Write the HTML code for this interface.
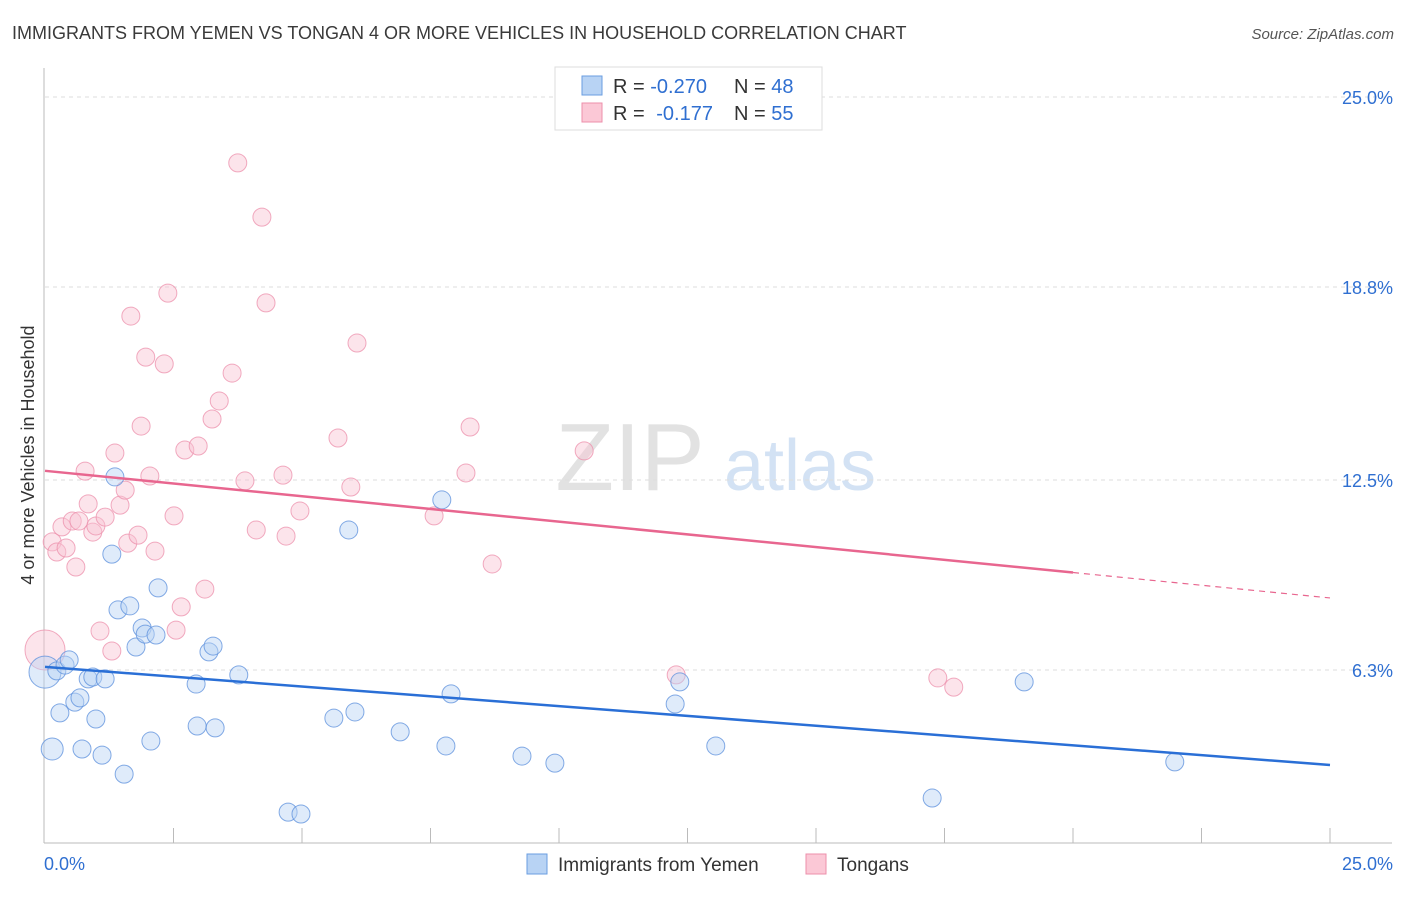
<!DOCTYPE html>
<html><head><meta charset="utf-8"><style>
body{margin:0;background:#fff;font-family:"Liberation Sans",sans-serif;}
svg text{font-family:"Liberation Sans",sans-serif;}
</style></head><body>
<svg id="c" width="1406" height="892" xmlns="http://www.w3.org/2000/svg">
<text x="12" y="39" font-size="18" fill="#3a3a3a">IMMIGRANTS FROM YEMEN VS TONGAN 4 OR MORE VEHICLES IN HOUSEHOLD CORRELATION CHART</text>
<text x="1394" y="39" font-size="15" fill="#555" font-style="italic" text-anchor="end">Source: ZipAtlas.com</text>
<g>
<text x="630" y="490" font-size="96" fill="#e2e2e2" font-family="Liberation Serif" text-anchor="middle">ZIP</text>
<text x="800" y="490" font-size="72" fill="#d3e2f4" text-anchor="middle">atlas</text></g>
<g id="grid"></g><g id="axes"></g><g id="pts"></g><g id="lines"></g>
<text transform="translate(34,455) rotate(-90)" font-size="18" fill="#333" text-anchor="middle">4 or more Vehicles in Household</text>
<g>
<rect x="555" y="67" width="267" height="63" fill="#fff" stroke="#ddd"/>
<rect x="582" y="76" width="20" height="19" fill="#b8d3f4" stroke="#6a9ee0"/>
<rect x="582" y="103" width="20" height="19" fill="#fbc8d6" stroke="#ec8fab"/>
<text x="613" y="93" font-size="20" fill="#333">R = <tspan fill="#2f6fd1">-0.270</tspan></text>
<text x="734" y="93" font-size="20" fill="#333">N = <tspan fill="#2f6fd1">48</tspan></text>
<text x="613" y="120" font-size="20" fill="#333">R = <tspan fill="#2f6fd1" dx="6">-0.177</tspan></text>
<text x="734" y="120" font-size="20" fill="#333">N = <tspan fill="#2f6fd1">55</tspan></text>
</g>
<g>
<rect x="527" y="854" width="20" height="20" fill="#b8d3f4" stroke="#6a9ee0"/>
<text x="558" y="871" font-size="19" fill="#333">Immigrants from Yemen</text>
<rect x="806" y="854" width="20" height="20" fill="#fbc8d6" stroke="#ec8fab"/>
<text x="837" y="871" font-size="19" fill="#333">Tongans</text>
</g>
</svg>
<script>
const yTicks=[25.0,18.8,12.5,6.3];
const yTickLabels=["25.0%","18.8%","12.5%","6.3%"];
const xTickCount=10;
const blueX=[0.00,0.14,0.23,0.39,0.47,0.58,0.29,0.68,0.84,0.93,1.17,0.99,0.72,1.11,1.54,1.30,1.36,1.42,1.65,1.77,1.89,1.95,2.16,2.06,2.20,2.94,2.96,3.31,3.19,3.27,3.77,4.73,4.98,5.62,6.03,5.91,6.91,7.72,7.80,7.90,9.28,9.92,12.26,12.35,13.05,17.26,19.05,21.98];
const blueY=[6.23,3.72,6.27,6.46,6.63,5.25,4.90,5.39,6.01,6.07,6.01,4.70,3.72,3.52,2.90,10.08,12.60,8.26,8.39,7.05,7.67,7.47,7.44,3.98,8.98,5.84,4.47,4.41,6.89,7.08,6.14,1.66,1.60,4.73,4.93,10.87,4.28,11.85,3.82,5.52,3.49,3.26,5.19,5.91,3.82,2.12,5.91,3.30];
const pinkX=[0.00,0.14,0.23,0.33,0.41,0.53,0.60,0.66,0.78,0.84,0.93,0.99,1.07,1.17,1.30,1.36,1.46,1.56,1.61,1.67,1.81,1.87,1.96,2.04,2.14,2.32,2.39,2.51,2.55,2.65,2.72,2.98,3.11,3.25,3.39,3.64,3.75,3.89,4.11,4.22,4.30,4.63,4.69,4.96,5.70,5.95,6.07,7.57,8.19,8.27,8.70,10.49,12.28,17.37,17.68];
const pinkY=[6.95,10.48,10.15,10.97,10.28,11.16,9.66,11.16,12.79,11.72,10.80,11.00,7.57,11.29,6.92,13.38,11.68,12.17,10.44,17.85,10.70,14.26,16.51,12.63,10.18,16.29,18.60,11.33,7.60,8.36,13.48,13.61,8.94,14.49,15.08,15.99,22.85,12.47,10.87,21.08,18.28,12.66,10.67,11.49,13.87,12.27,16.97,11.33,12.73,14.23,9.76,13.45,6.14,6.04,5.74];
const blueTrend=[6.40,3.20];
const pinkTrend=[12.80,8.65];
const pinkSolidEnd=20.0;
const X=v=>45+v*51.4, Y=v=>863-v*30.64;
const NS="http://www.w3.org/2000/svg";
function mk(t,a,p){const e=document.createElementNS(NS,t);for(const k in a)e.setAttribute(k,a[k]);document.getElementById(p).appendChild(e);return e;}
yTicks.forEach((t,i)=>{
 const g=mk('line',{x1:45,x2:1392,y1:Y(t),y2:Y(t),stroke:'#ddd','stroke-dasharray':'4,4'},'grid');
 
 
 const l=mk('text',{x:1393,y:Y(t)+7,'font-size':18,fill:'#2f6fd1','text-anchor':'end'},'axes');
 l.textContent=yTickLabels[i];
 
 
});
let a=mk('line',{x1:44,x2:44,y1:68,y2:843,stroke:'#bbb'},'axes');


a=mk('line',{x1:44,x2:1392,y1:843,y2:843,stroke:'#bbb'},'axes');


for(let i=1;i<=xTickCount;i++){const xv=25*i/xTickCount;
 const t=mk('line',{x1:X(xv),x2:X(xv),y1:828,y2:843,stroke:'#bbb'},'axes');
 
 }
let xl=mk('text',{x:44,y:870,'font-size':18,fill:'#2f6fd1'},'axes');xl.textContent='0.0%';


xl=mk('text',{x:1393,y:870,'font-size':18,fill:'#2f6fd1','text-anchor':'end'},'axes');xl.textContent='25.0%';


function pts(xs,ys,fill,stroke,name,big){xs.forEach((x,i)=>{
 const r=big[i]||9;
 const c=mk('circle',{cx:X(x),cy:Y(ys[i]),r:r,fill:fill,'fill-opacity':0.45,stroke:stroke,'stroke-opacity':0.75,'stroke-width':1},'pts');
 
 });}
pts(pinkX,pinkY,'#f9c3d3','#ec8fab','tongan-point',{0:20});
pts(blueX,blueY,'#b8d3f4','#5b8fdc','yemen-point',{0:16,1:11});
let ln=mk('line',{x1:X(0),y1:Y(blueTrend[0]),x2:X(25),y2:Y(blueTrend[1]),stroke:'#2a6fd6','stroke-width':2.5},'lines');


const py=v=>pinkTrend[0]+(pinkTrend[1]-pinkTrend[0])*v/25;
ln=mk('line',{x1:X(0),y1:Y(py(0)),x2:X(pinkSolidEnd),y2:Y(py(pinkSolidEnd)),stroke:'#e8668f','stroke-width':2.5},'lines');


ln=mk('line',{x1:X(pinkSolidEnd),y1:Y(py(pinkSolidEnd)),x2:X(25),y2:Y(py(25)),stroke:'#e8668f','stroke-width':1.2,'stroke-dasharray':'6,5'},'lines');


</script>
</body></html>
